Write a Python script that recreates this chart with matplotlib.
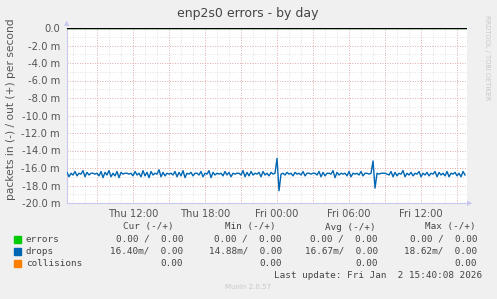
import numpy as np
import matplotlib
matplotlib.use("Agg")
import matplotlib.pyplot as plt
from matplotlib.ticker import FixedLocator

# ---- data ----
title = "enp2s0 errors - by day"
ylabel = "packets in (-) / out (+) per second"
t_start = 6.5          # hours since Thu 00:00
t_step = 1.0 / 6.0     # 10 minutes
# drops, inbound (m packets / s), plotted negative
drops_in = [
    16.5, 17.0, 16.6, 16.8, 16.4, 16.9, 16.6, 16.7, 16.3, 17.0, 16.5, 16.8, 16.6, 16.6, 16.7, 16.6, 16.9, 16.4, 17.1, 16.5,
    16.8, 16.3, 17.0, 16.6, 16.9, 16.4, 17.1, 16.5, 16.7, 16.6, 16.6, 16.7, 16.6, 16.9, 16.4, 16.8, 16.6, 17.0, 16.3, 16.9,
    16.5, 17.1, 16.4, 16.8, 16.6, 16.7, 16.2, 17.0, 16.5, 16.9, 16.6, 16.7, 16.6, 16.8, 16.4, 17.0, 16.5, 16.9, 16.3, 17.1,
    16.6, 16.7, 16.5, 16.9, 16.6, 16.6, 16.8, 16.4, 17.0, 16.6, 16.7, 16.3, 17.1, 16.5, 16.8, 16.6, 16.7, 16.6, 16.9, 16.4,
    16.8, 16.5, 17.0, 16.6, 16.7, 16.6, 16.6, 16.8, 16.3, 17.0, 16.5, 16.9, 16.4, 16.8, 16.6, 16.7, 16.5, 17.0, 16.4, 16.8,
    16.6, 16.9, 16.5, 16.7, 16.6, 14.9, 18.6, 16.7, 16.6, 16.8, 16.5, 16.7, 16.6, 16.9, 16.5, 16.7, 16.6, 16.8, 16.4, 16.9,
    16.6, 16.6, 16.7, 16.6, 16.6, 16.8, 16.4, 17.0, 16.5, 16.9, 16.6, 16.6, 16.7, 16.3, 17.1, 16.5, 16.8, 16.6, 16.7, 16.6,
    16.9, 16.4, 17.0, 16.6, 16.7, 16.6, 16.8, 16.4, 16.9, 16.6, 16.6, 16.7, 16.6, 15.2, 18.3, 16.6, 16.7, 16.6, 16.6, 16.6,
    16.7, 16.8, 16.4, 17.0, 16.5, 16.9, 16.6, 16.7, 16.3, 17.0, 16.6, 16.8, 16.5, 16.9, 16.6, 16.7, 16.4, 17.0, 16.6, 16.8,
    16.5, 16.9, 16.6, 16.7, 16.4, 17.0, 16.5, 16.8, 16.6, 16.9, 16.4, 17.0, 16.6, 16.7, 16.5, 16.9, 16.6, 17.0, 16.4, 16.8,
]
errors_in = [0.0, 0.0]
x_tick_pos = [12, 18, 24, 30, 36]
x_tick_labels = ["Thu 12:00", "Thu 18:00", "Fri 00:00", "Fri 06:00", "Fri 12:00"]
y_tick_pos = [0, -2, -4, -6, -8, -10, -12, -14, -16, -18, -20]
y_tick_labels = ["0.0"] + ["%.1f m" % v for v in y_tick_pos[1:]]

legend_names = ["errors", "drops", "collisions"]
legend_colors = ["#00CC00", "#0066B3", "#FF8000"]
cur_vals = ["0.00 /  0.00", "16.40m/  0.00", "0.00"]
min_vals = ["0.00 /  0.00", "14.88m/  0.00", "0.00"]
avg_vals = ["0.00 /  0.00", "16.67m/  0.00", "0.00"]
max_vals = ["0.00 /  0.00", "18.62m/  0.00", "0.00"]
last_update = "Last update: Fri Jan  2 15:40:08 2026"

# ---- figure ----
W, H = 497, 299
fig = plt.figure(figsize=(W / 100, H / 100), dpi=100, facecolor="#F0F0F0")
L, R, T, B = 67, 467, 28, 203
ax = fig.add_axes([L / W, 1 - B / H, (R - L) / W, (B - T) / H], facecolor="white")

times = t_start + t_step * np.arange(len(drops_in))
t_end = 39.83
ax.set_xlim(t_start, t_end)
ax.set_ylim(-20, 0)

# grid
for h in np.arange(7, 40, 1):
    ax.axvline(h, color="#D8D8D8", lw=0.6, ls=(0, (1, 2)), zorder=1)
for h in np.arange(9, 40, 3):
    ax.axvline(h, color="#E6A0A0", lw=0.6, ls=(0, (1, 2)), zorder=1.1)
for v in np.arange(-19, 0, 1):
    ax.axhline(v, color="#D8D8D8", lw=0.6, ls=(0, (1, 2)), zorder=1)
for v in np.arange(-20, 0.1, 2):
    ax.axhline(v, color="#E6A0A0", lw=0.6, ls=(0, (1, 2)), zorder=1.1)

ax.plot(times, -np.array(drops_in), color="#0066B3", lw=1.0, zorder=3)
ax.plot([t_start, t_end], errors_in, color="#00CC00", lw=1.0, zorder=3)
ax.axhline(0, color="black", lw=1.0, zorder=4)

ax.xaxis.set_major_locator(FixedLocator(x_tick_pos))
ax.set_xticklabels(x_tick_labels)
ax.yaxis.set_major_locator(FixedLocator(y_tick_pos))
ax.set_yticklabels(y_tick_labels)
ax.tick_params(length=0, labelsize=7.2, colors="#555555", pad=5)
ax.tick_params(axis="x", pad=4)

for s in ["top", "right"]:
    ax.spines[s].set_visible(False)
for s in ["left", "bottom"]:
    ax.spines[s].set_color("#C8C8F0")
    ax.spines[s].set_linewidth(0.8)

# axis arrows
fig.text(L / W, 1 - 23 / H, "▲", color="#C8C8F0", fontsize=5, ha="center", va="center")
fig.text(470 / W, 1 - B / H, "▶", color="#C8C8F0", fontsize=5, ha="center", va="center")

fig.text(248 / W, 1 - 13 / H, title, ha="center", va="center", fontsize=9, color="#444444")
fig.text(11 / W, 1 - 109 / H, ylabel, rotation=90, ha="center", va="center", fontsize=7.7, color="#555555")
fig.text(487 / W, 1 - 58 / H, "RRDTOOL / TOBI OETIKER", rotation=270, ha="center", va="center",
         fontsize=4.8, color="#C8C8C8")

# legend
mono = "DejaVu Sans Mono"
fs = 6.7
tc = "#444444"
hdr_y = 227
headers = [("Cur (-/+)", 174), ("Min (-/+)", 276), ("Avg (-/+)", 376), ("Max (-/+)", 476)]
for txt, xr in headers:
    fig.text(xr / W, 1 - hdr_y / H, txt, ha="right", va="center", family=mono, fontsize=fs, color=tc)
row_y = [239, 251, 263]
cols = [(cur_vals, 183), (min_vals, 282), (avg_vals, 378), (max_vals, 477)]
for i, name in enumerate(legend_names):
    y = 1 - row_y[i] / H
    fig.patches.append(plt.Rectangle((14 / W, y - 3.5 / H), 7 / W, 7 / H, transform=fig.transFigure,
                                     color=legend_colors[i], figure=fig))
    fig.text(26 / W, y, name, ha="left", va="center", family=mono, fontsize=fs, color=tc)
    for vals, xr in cols:
        fig.text(xr / W, y, vals[i], ha="right", va="center", family=mono, fontsize=fs, color=tc)
fig.text(482 / W, 1 - 276 / H, last_update, ha="right", va="center", family=mono, fontsize=fs, color=tc)
fig.text(248 / W, 1 - 287 / H, "Munin 2.0.57", ha="center", va="center", fontsize=5, color="#C8C8C8")

fig.savefig("out.png", dpi=100, facecolor=fig.get_facecolor())
